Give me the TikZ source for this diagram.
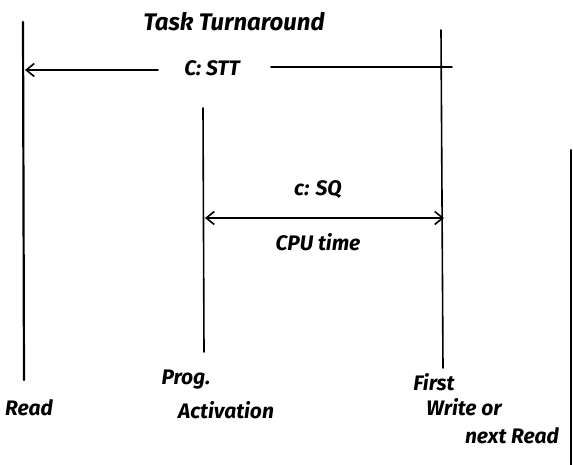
\documentclass[tikz,border=0pt]{standalone}
\usepackage{fontspec}
\setmainfont{Fira Sans}
\usetikzlibrary{arrows.meta}
\begin{document}
\begin{tikzpicture}[x=1pt,y=-1pt,
  hand/.style={line width=1.6pt,line cap=round},
  lbl/.style={font=\bfseries\itshape\fontsize{21}{22}\selectfont,inner sep=0pt,align=left},
  tip/.style={-{Straight Barb[length=8pt,width=13pt,line width=1.6pt]}}]
\useasboundingbox (0,0) rectangle (573,465);
% vertical marks
\coordinate (r1) at (23,22); \coordinate (r2) at (24,380);
\coordinate (p1) at (203,108); \coordinate (p2) at (204,352);
\coordinate (f1) at (441,30); \coordinate (f2) at (443,368);
\coordinate (e1) at (571,150); \coordinate (e2) at (571,465);
\draw[hand,line width=2.2pt] (r1) -- (r2);
\draw[hand] (p1) -- (p2);
\draw[hand] (f1) -- (f2);
\draw[hand,line width=2pt] (e1) -- (e2);
% labels
\node[lbl,font=\bfseries\itshape\fontsize{24}{26}\selectfont] (title) at (234,22) {Task Turnaround};
\node[lbl] (stt) at (212,68) {C: STT};
\coordinate (a1) at (158,70); \coordinate (a2) at (25,70);
\coordinate (b1) at (271,67); \coordinate (b2) at (452,67);
\draw[hand,tip] (a1) -- (a2);
\draw[hand] (b1) -- (b2);
\node[lbl] (sq) at (318,190) {c: SQ};
\coordinate (c1) at (205,218); \coordinate (c2) at (444,218);
\draw[hand,{Straight Barb[length=8pt,width=13pt,line width=1.6pt]}-{Straight Barb[length=8pt,width=13pt,line width=1.6pt]}] (c1) -- (c2);
\node[lbl] (cpu) at (318,242) {CPU time};
\node[lbl] (read) at (29,408) {Read};
\node[lbl] (prog) at (186,380) {Prog.};
\node[lbl] (act) at (226,410) {Activation};
\node[lbl] (first) at (434,382) {First};
\node[lbl] (wr) at (464,407) {Write or};
\node[lbl] (nr) at (512,436) {next Read};
\end{tikzpicture}
\end{document}
